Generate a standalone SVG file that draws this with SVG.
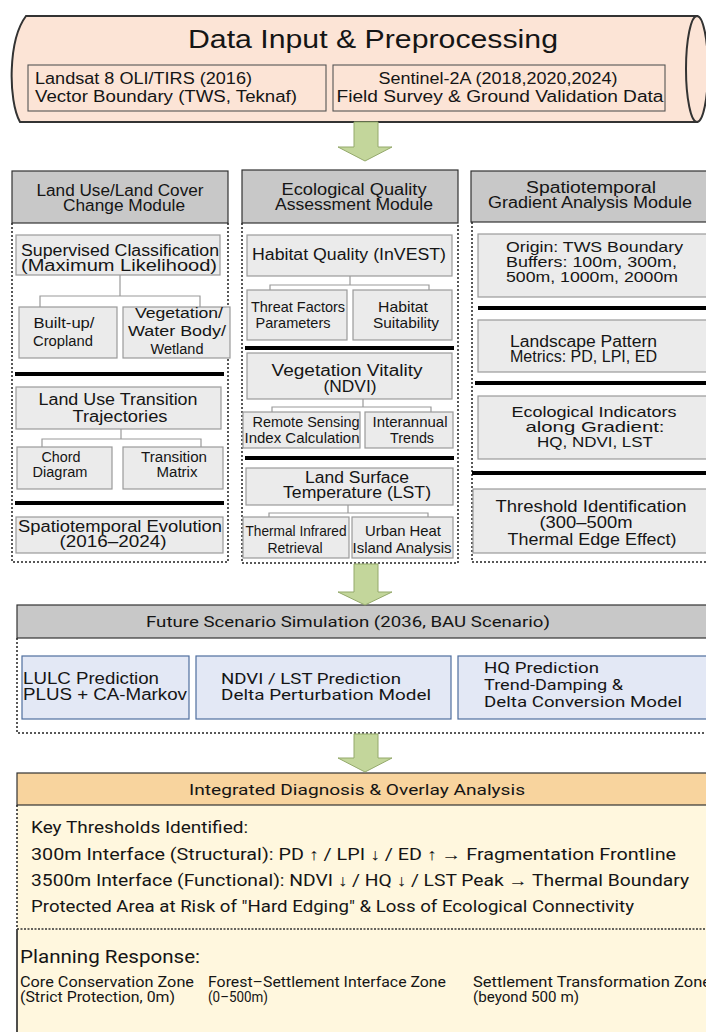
<svg xmlns="http://www.w3.org/2000/svg" width="706" height="1032" viewBox="0 0 706 1032" font-size="15.5">
<style>
.t{font-family:'Liberation Sans',Arial,'DejaVu Sans',sans-serif;fill:#151515}
.r{font-family:Roboto,'Liberation Sans','DejaVu Sans',sans-serif;fill:#151515}
.c{text-anchor:middle}
.hdr{fill:#C8C8C8;stroke:#333;stroke-width:1.2}
.sub{fill:#EBEBEB;stroke:#9A9A9A;stroke-width:1.2}
.dot{fill:none;stroke:#222;stroke-width:1.5;stroke-dasharray:2 2}
.bar{fill:#000}
.conn{fill:none;stroke:#9A9A9A;stroke-width:1.2}
.arr{fill:#C3D69B;stroke:#94A96B;stroke-width:1}
.blue{fill:#E3E8F5;stroke:#4F6E9E;stroke-width:1.2}
.inbox{fill:none;stroke:#555;stroke-width:1.1}
</style>
<rect width="706" height="1032" fill="#fff"/>

<g id="data-input">
<path d="M26,16 H697 V122 H20 C8,100 8,40 26,16 Z" fill="#FCE4D6" stroke="#333" stroke-width="2"/>
<ellipse cx="697" cy="69" rx="11" ry="53" fill="#FCE4D6" stroke="#333" stroke-width="2"/>
<text class="t c" x="373" y="48" font-size="25" textLength="370" lengthAdjust="spacingAndGlyphs">Data Input &amp; Preprocessing</text>
<rect class="inbox" x="28" y="65" width="298" height="46"/>
<rect class="inbox" x="333" y="65" width="332" height="46"/>
<text class="t" x="35" y="84" font-size="16" textLength="217" lengthAdjust="spacingAndGlyphs">Landsat 8 OLI/TIRS (2016)</text>
<text class="t" x="35" y="102" font-size="16" textLength="262" lengthAdjust="spacingAndGlyphs">Vector Boundary (TWS, Teknaf)</text>
<text class="t c" x="498" y="84" font-size="16" textLength="239" lengthAdjust="spacingAndGlyphs">Sentinel-2A (2018,2020,2024)</text>
<text class="t c" x="500" y="102" font-size="16" textLength="327" lengthAdjust="spacingAndGlyphs">Field Survey &amp; Ground Validation Data</text>
</g>

<g id="lulc-module">
<rect class="hdr" x="12" y="171" width="216" height="52"/>
<text class="t c" x="120" y="196" font-size="16" textLength="167" lengthAdjust="spacingAndGlyphs">Land Use/Land Cover</text>
<text class="t c" x="124" y="211" font-size="16" textLength="122" lengthAdjust="spacingAndGlyphs">Change Module</text>
<path class="dot" d="M12,223 V562 H228 V223"/>
<g id="lulc-supervised">
<rect class="sub" x="16" y="235" width="204" height="40"/>
<text class="t c" x="120" y="256" font-size="16" textLength="198" lengthAdjust="spacingAndGlyphs">Supervised Classification</text>
<text class="t c" x="119" y="271" font-size="16" textLength="196" lengthAdjust="spacingAndGlyphs">(Maximum Likelihood)</text>
</g>
<g id="lulc-builtup">
<rect class="sub" x="19" y="307" width="98" height="51"/>
<text class="t c" x="64" y="328" textLength="61" lengthAdjust="spacingAndGlyphs">Built-up/</text>
<text class="t c" x="63" y="346" textLength="60" lengthAdjust="spacingAndGlyphs">Cropland</text>
</g>
<g id="lulc-vegetation">
<rect class="sub" x="123" y="307" width="107" height="51"/>
<text class="t c" x="179" y="318" textLength="88" lengthAdjust="spacingAndGlyphs">Vegetation/</text>
<text class="t c" x="177" y="336" textLength="98" lengthAdjust="spacingAndGlyphs">Water Body/</text>
<text class="t c" x="177" y="354" textLength="53" lengthAdjust="spacingAndGlyphs">Wetland</text>
</g>
<rect class="bar" x="15" y="372" width="209" height="4"/>
<g id="lulc-transition">
<rect class="sub" x="16" y="387" width="205" height="42"/>
<text class="t c" x="118" y="405" font-size="16" textLength="159" lengthAdjust="spacingAndGlyphs">Land Use Transition</text>
<text class="t c" x="120" y="422" font-size="16" textLength="95" lengthAdjust="spacingAndGlyphs">Trajectories</text>
</g>
<g id="lulc-chord">
<rect class="sub" x="17" y="447" width="95" height="42"/>
<text class="t c" x="61" y="462" textLength="39" lengthAdjust="spacingAndGlyphs">Chord</text>
<text class="t c" x="60" y="477" textLength="55" lengthAdjust="spacingAndGlyphs">Diagram</text>
</g>
<g id="lulc-matrix">
<rect class="sub" x="123" y="447" width="100" height="42"/>
<text class="t c" x="174" y="462" textLength="66" lengthAdjust="spacingAndGlyphs">Transition</text>
<text class="t c" x="177" y="477" textLength="41" lengthAdjust="spacingAndGlyphs">Matrix</text>
</g>
<rect class="bar" x="15" y="501" width="209" height="4"/>
<g id="lulc-evolution">
<rect class="sub" x="16" y="517" width="207" height="36"/>
<text class="t c" x="120" y="532" font-size="16" textLength="204" lengthAdjust="spacingAndGlyphs">Spatiotemporal Evolution</text>
<text class="t c" x="113" y="547" font-size="16" textLength="107" lengthAdjust="spacingAndGlyphs">(2016–2024)</text>
</g>
</g>

<g id="eco-module">
<rect class="hdr" x="242" y="170" width="216" height="53"/>
<text class="t c" x="354" y="195" font-size="16" textLength="145" lengthAdjust="spacingAndGlyphs">Ecological Quality</text>
<text class="t c" x="354" y="210" font-size="16" textLength="158" lengthAdjust="spacingAndGlyphs">Assessment Module</text>
<path class="dot" d="M242,223 V563 H458 V223"/>
<g id="eco-habitat">
<rect class="sub" x="247" y="235" width="205" height="41"/>
<text class="t c" x="349" y="260" font-size="16" textLength="194" lengthAdjust="spacingAndGlyphs">Habitat Quality (InVEST)</text>
</g>
<g id="eco-threat">
<rect class="sub" x="247" y="290" width="100" height="50"/>
<text class="t c" x="298" y="312" font-size="14.5" textLength="94" lengthAdjust="spacingAndGlyphs">Threat Factors</text>
<text class="t c" x="293" y="328" font-size="14.5" textLength="75" lengthAdjust="spacingAndGlyphs">Parameters</text>
</g>
<g id="eco-suitability">
<rect class="sub" x="353" y="290" width="99" height="50"/>
<text class="t c" x="403" y="312" font-size="14.5" textLength="50" lengthAdjust="spacingAndGlyphs">Habitat</text>
<text class="t c" x="406" y="328" font-size="14.5" textLength="66" lengthAdjust="spacingAndGlyphs">Suitability</text>
</g>
<rect class="bar" x="245" y="346" width="209" height="4"/>
<g id="eco-ndvi">
<rect class="sub" x="247" y="353" width="205" height="46"/>
<text class="t c" x="347" y="376" font-size="16" textLength="151" lengthAdjust="spacingAndGlyphs">Vegetation Vitality</text>
<text class="t c" x="350" y="392" font-size="16" textLength="53" lengthAdjust="spacingAndGlyphs">(NDVI)</text>
</g>
<g id="eco-rs">
<rect class="sub" x="243" y="412" width="117" height="36"/>
<text class="t c" x="306" y="427" font-size="14.5" textLength="107" lengthAdjust="spacingAndGlyphs">Remote Sensing</text>
<text class="t c" x="302" y="443" font-size="14.5" textLength="115" lengthAdjust="spacingAndGlyphs">Index Calculation</text>
</g>
<g id="eco-trends">
<rect class="sub" x="365" y="412" width="88" height="36"/>
<text class="t c" x="410" y="427" font-size="14.5" textLength="75" lengthAdjust="spacingAndGlyphs">Interannual</text>
<text class="t c" x="412" y="443" font-size="14.5" textLength="44" lengthAdjust="spacingAndGlyphs">Trends</text>
</g>
<rect class="bar" x="245" y="456" width="209" height="4"/>
<g id="eco-lst">
<rect class="sub" x="246" y="468" width="207" height="37"/>
<text class="t c" x="357" y="483" font-size="16" textLength="104" lengthAdjust="spacingAndGlyphs">Land Surface</text>
<text class="t c" x="357" y="498" font-size="16" textLength="148" lengthAdjust="spacingAndGlyphs">Temperature (LST)</text>
</g>
<g id="eco-thermal">
<rect class="sub" x="243" y="517" width="106" height="41"/>
<text class="t c" x="296" y="536" font-size="14.5" textLength="101" lengthAdjust="spacingAndGlyphs">Thermal Infrared</text>
<text class="t c" x="295" y="553" font-size="14.5" textLength="55" lengthAdjust="spacingAndGlyphs">Retrieval</text>
</g>
<g id="eco-uhi">
<rect class="sub" x="352" y="517" width="101" height="41"/>
<text class="t c" x="403" y="536" font-size="14.5" textLength="76" lengthAdjust="spacingAndGlyphs">Urban Heat</text>
<text class="t c" x="402" y="553" font-size="14.5" textLength="99" lengthAdjust="spacingAndGlyphs">Island Analysis</text>
</g>
</g>

<g id="gradient-module">
<rect class="hdr" x="471" y="171" width="245" height="51"/>
<text class="t c" x="591" y="193" font-size="16" textLength="130" lengthAdjust="spacingAndGlyphs">Spatiotemporal</text>
<text class="t c" x="590" y="208" font-size="16" textLength="204" lengthAdjust="spacingAndGlyphs">Gradient Analysis Module</text>
<path class="dot" d="M472,222 V562 H710"/>
<g id="grad-origin">
<rect class="sub" x="478" y="234" width="240" height="63"/>
<text class="t" x="506" y="252" font-size="15" textLength="177" lengthAdjust="spacingAndGlyphs">Origin: TWS Boundary</text>
<text class="t" x="506" y="267" font-size="15" textLength="171" lengthAdjust="spacingAndGlyphs">Buffers: 100m, 300m,</text>
<text class="t" x="506" y="282" font-size="15" textLength="172" lengthAdjust="spacingAndGlyphs">500m, 1000m, 2000m</text>
</g>
<rect class="bar" x="478" y="306" width="230" height="4"/>
<g id="grad-landscape">
<rect class="sub" x="478" y="320" width="240" height="52"/>
<text class="t" x="510" y="347" font-size="16" textLength="147" lengthAdjust="spacingAndGlyphs">Landscape Pattern</text>
<text class="t" x="510" y="362" font-size="16" textLength="147" lengthAdjust="spacingAndGlyphs">Metrics:  PD, LPI, ED</text>
</g>
<rect class="bar" x="475" y="381" width="233" height="4"/>
<g id="grad-indicators">
<rect class="sub" x="478" y="396" width="240" height="63"/>
<text class="t c" x="594" y="417" font-size="15" textLength="165" lengthAdjust="spacingAndGlyphs">Ecological Indicators</text>
<text class="t c" x="595" y="432" font-size="15" textLength="139" lengthAdjust="spacingAndGlyphs">along Gradient:</text>
<text class="t c" x="595" y="447" font-size="15" textLength="116" lengthAdjust="spacingAndGlyphs">HQ, NDVI, LST</text>
</g>
<rect class="bar" x="472" y="471" width="236" height="4"/>
<g id="grad-threshold">
<rect class="sub" x="473" y="489" width="245" height="64"/>
<text class="t c" x="591" y="512" font-size="16" textLength="191" lengthAdjust="spacingAndGlyphs">Threshold Identification</text>
<text class="t c" x="586" y="528" font-size="16" textLength="93" lengthAdjust="spacingAndGlyphs">(300–500m</text>
<text class="t c" x="592" y="545" font-size="16" textLength="169" lengthAdjust="spacingAndGlyphs">Thermal Edge Effect)</text>
</g>
</g>

<g id="future-scenario">
<rect class="hdr" x="17" y="605" width="700" height="33"/>
<text class="r c" x="348" y="627" font-size="15.5" textLength="404" lengthAdjust="spacingAndGlyphs">Future Scenario Simulation (2036, BAU Scenario)</text>
<path class="dot" d="M17,638 V733 H710"/>
<g id="fs-lulc">
<rect class="blue" x="22" y="656" width="167" height="63"/>
<text class="t" x="23" y="684" font-size="16" textLength="136" lengthAdjust="spacingAndGlyphs">LULC Prediction</text>
<text class="t" x="23" y="700" font-size="16" textLength="164" lengthAdjust="spacingAndGlyphs">PLUS + CA-Markov</text>
</g>
<g id="fs-ndvi-lst">
<rect class="blue" x="196" y="656" width="255" height="63"/>
<text class="r" x="221" y="684" font-size="15" textLength="180" lengthAdjust="spacingAndGlyphs">NDVI / LST Prediction</text>
<text class="r" x="221" y="700" font-size="15" textLength="210" lengthAdjust="spacingAndGlyphs">Delta Perturbation Model</text>
</g>
<g id="fs-hq">
<rect class="blue" x="458" y="656" width="260" height="63"/>
<text class="r" x="484" y="673" font-size="15" textLength="115" lengthAdjust="spacingAndGlyphs">HQ Prediction</text>
<text class="r" x="484" y="690" font-size="15" textLength="139" lengthAdjust="spacingAndGlyphs">Trend-Damping &amp;</text>
<text class="r" x="484" y="707" font-size="15" textLength="198" lengthAdjust="spacingAndGlyphs">Delta Conversion Model</text>
</g>
</g>

<g id="integrated">
<rect x="17" y="805" width="700" height="124" fill="#FFF7DE"/>
<rect x="17" y="773" width="700" height="32" fill="#F8D49E" stroke="#333" stroke-width="1.2"/>
<text class="r c" x="357" y="795" font-size="15.5" textLength="336" lengthAdjust="spacingAndGlyphs">Integrated Diagnosis &amp; Overlay Analysis</text>
<path class="dot" d="M17,805 V929"/>
<text class="r" x="31" y="833" font-size="16" textLength="217" lengthAdjust="spacingAndGlyphs">Key Thresholds Identified:</text>
<text class="r" x="31" y="860" font-size="16" textLength="645" lengthAdjust="spacingAndGlyphs">300m Interface (Structural): PD ↑ / LPI ↓ / ED ↑ → Fragmentation Frontline</text>
<text class="r" x="31" y="886" font-size="16" textLength="658" lengthAdjust="spacingAndGlyphs">3500m Interface (Functional): NDVI ↓ / HQ ↓ / LST Peak → Thermal Boundary</text>
<text class="r" x="31" y="912" font-size="16" textLength="603" lengthAdjust="spacingAndGlyphs">Protected Area at Risk of "Hard Edging" &amp; Loss of Ecological Connectivity</text>
</g>

<g id="planning">
<rect x="17" y="929" width="700" height="110" fill="#FFF7DE"/>
<path d="M17,929 V1032" stroke="#222" stroke-width="1.6" fill="none"/>
<path d="M17,929 H710" stroke="#333" stroke-width="1.3" stroke-dasharray="2 1.5" fill="none"/>
<text class="r" x="20" y="963" font-size="18" textLength="180" lengthAdjust="spacingAndGlyphs">Planning Response:</text>
<text class="r" x="20" y="987" font-size="14.5" textLength="174" lengthAdjust="spacingAndGlyphs">Core Conservation Zone</text>
<text class="r" x="20" y="1002" font-size="14.5" textLength="155" lengthAdjust="spacingAndGlyphs">(Strict Protection, 0m)</text>
<text class="r" x="208" y="987" font-size="14.5" textLength="238" lengthAdjust="spacingAndGlyphs">Forest–Settlement Interface Zone</text>
<text class="r" x="208" y="1002" font-size="14.5" textLength="60" lengthAdjust="spacingAndGlyphs">(0–500m)</text>
<text class="r" x="473" y="987" font-size="14.5" textLength="238" lengthAdjust="spacingAndGlyphs">Settlement Transformation Zone</text>
<text class="r" x="473" y="1002" font-size="14.5" textLength="106" lengthAdjust="spacingAndGlyphs">(beyond 500 m)</text>
</g>

<g id="connectors">
<path class="conn" d="M120,275 V296 M40,307 V296 H200 V307"/>
<path class="conn" d="M121,429 V439 M42,447 V439 H201 V447"/>
<path class="conn" d="M350,276 V285 M270,290 V285 H429 V290"/>
<path class="conn" d="M363,399 V407 M272,412 V407 H431 V412"/>
<path class="conn" d="M348,505 V513 M269,517 V513 H428 V517"/>
<path class="arr" d="M354,122 H378 V147 H392 L365,161 L338,147 H354 Z"/>
<path class="arr" d="M354,564 H378 V592 H392 L365,605 L338,592 H354 Z"/>
<path class="arr" d="M354,734 H378 V758 H392 L365,772 L338,758 H354 Z"/>
</g>
</svg>
